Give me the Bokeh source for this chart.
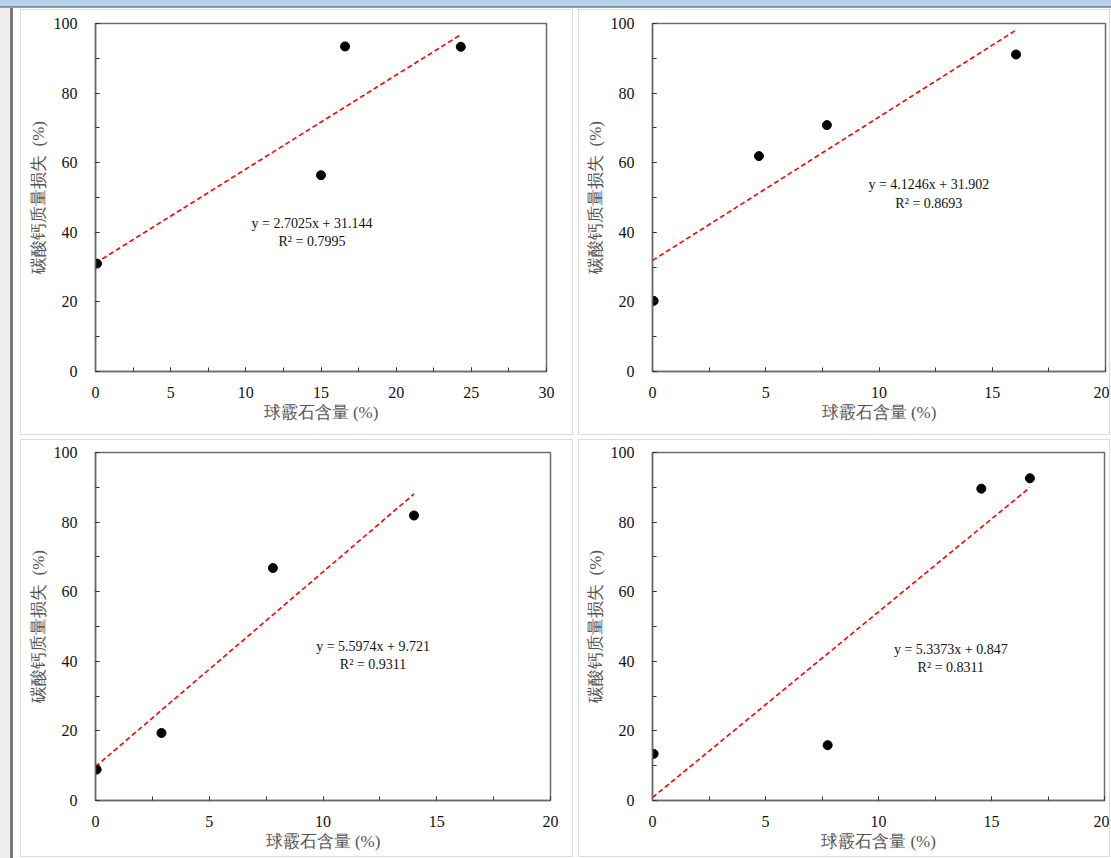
from bokeh.plotting import figure
from bokeh.models import Range1d, SingleIntervalTicker, Label, Spacer, Div
from bokeh.layouts import row, column
from bokeh.embed import file_html
from bokeh.resources import INLINE

# ---- data ----
x1 = [0.1, 15.0, 16.6, 24.3]
y1 = [31.0, 56.4, 93.4, 93.3]
fit1 = (2.7025, 31.144)
eq1 = "y = 2.7025x + 31.144"
r21 = "R² = 0.7995"

x2 = [0.05, 4.7, 7.7, 16.05]
y2 = [20.3, 61.9, 70.8, 91.1]
fit2 = (4.1246, 31.902)
eq2 = "y = 4.1246x + 31.902"
r22 = "R² = 0.8693"

x3 = [0.05, 2.9, 7.8, 14.0]
y3 = [8.9, 19.4, 66.8, 81.9]
fit3 = (5.5974, 9.721)
eq3 = "y = 5.5974x + 9.721"
r23 = "R² = 0.9311"

x4 = [0.05, 7.75, 14.55, 16.7]
y4 = [13.4, 15.9, 89.6, 92.6]
fit4 = (5.3373, 0.847)
eq4 = "y = 5.3373x + 0.847"
r24 = "R² = 0.8311"

x_label = "球霰石含量 (%)"
y_label = "碳酸钙质量损失\u00a0\u00a0(%)"

FONT = "Liberation Serif"
AXFONT = "Times New Roman"
AX = "#6b6b6b"


def make_panel(xs, ys, fit, eq, r2, xmax, width, height, ml, mr, mt, mb, eqx, eqy1, eqy2):
    p = figure(width=width, height=height,
               x_range=Range1d(0, xmax), y_range=Range1d(0, 100),
               output_backend="svg", toolbar_location=None,
               min_border_left=ml, min_border_right=mr,
               min_border_top=mt, min_border_bottom=mb,
               background_fill_color="white", border_fill_color="white")
    p.styles = {"outline": "1px solid #dcdcdc"}
    p.xgrid.visible = False
    p.ygrid.visible = False
    p.outline_line_color = AX
    p.outline_line_width = 1.5
    p.outline_line_alpha = 1.0

    p.xaxis.ticker = SingleIntervalTicker(interval=5, num_minor_ticks=2)
    p.yaxis.ticker = SingleIntervalTicker(interval=20, num_minor_ticks=2)
    for ax in p.xaxis + p.yaxis:
        ax.axis_line_color = AX
        ax.axis_line_width = 1.5
        ax.major_tick_line_color = "#333333"
        ax.minor_tick_line_color = "#333333"
        ax.major_tick_in = 4
        ax.major_tick_out = 0
        ax.minor_tick_in = 4
        ax.minor_tick_out = 0
        ax.major_label_text_font = AXFONT
        ax.major_label_text_font_size = "16px"
        ax.major_label_text_color = "#111111"
        ax.axis_label_text_font = AXFONT
        ax.axis_label_text_font_size = "17px"
        ax.axis_label_text_font_style = "normal"
        ax.axis_label_text_color = "#555555"
    p.xaxis.axis_label = x_label
    p.yaxis.axis_label = y_label
    p.xaxis.major_label_standoff = 15
    p.xaxis.axis_label_standoff = 2
    p.yaxis.major_label_standoff = 18
    p.yaxis.axis_label_standoff = 3

    xe = max(xs)
    p.line([0, xe], [fit[1], fit[0] * xe + fit[1]], line_color="#ff0000",
           line_width=1.6, line_dash="5 3")
    p.scatter(xs, ys, size=9, fill_color="black", line_color="black")

    for txt, yy in ((eq, eqy1), (r2, eqy2)):
        p.add_layout(Label(x=eqx, y=yy, text=txt, text_align="center",
                           text_baseline="middle", text_font=FONT,
                           text_font_size="14px", text_color="#111111"))
    return p


p1 = make_panel(x1, y1, fit1, eq1, r21, 30, 551, 424, 74, 26, 13, 63, 14.4, 42.5, 37.4)
p2 = make_panel(x2, y2, fit2, eq2, r22, 20, 530, 424, 73, 4, 13, 63, 12.2, 53.6, 48.4)
p3 = make_panel(x3, y3, fit3, eq3, r23, 20, 551, 416, 74, 22, 12, 56, 12.2, 44.3, 39.1)
p4 = make_panel(x4, y4, fit4, eq4, r24, 20, 530, 416, 73, 5, 12, 54, 13.2, 43.4, 38.3)

topbar = Div(text="", width=1111, height=8, margin=0,
             styles={"background": "linear-gradient(#b6d3ec 0px, #b6d3ec 6px, #8a8a8a 6px, #a0a0a0 8px)"})
leftgray = Div(text="", width=10, height=850, margin=0, styles={"background-color": "#efefef"})
bar = Div(text="", width=3, height=850, margin=0, styles={"background-color": "#7a7a7a"})

grid = column(
    Spacer(height=2),
    row(p1, Spacer(width=7), p2),
    Spacer(height=6),
    row(p3, Spacer(width=7), p4),
)
layout = column(topbar, row(leftgray, bar, Spacer(width=8), grid))

open("out.html", "w").write(file_html(layout, INLINE))
